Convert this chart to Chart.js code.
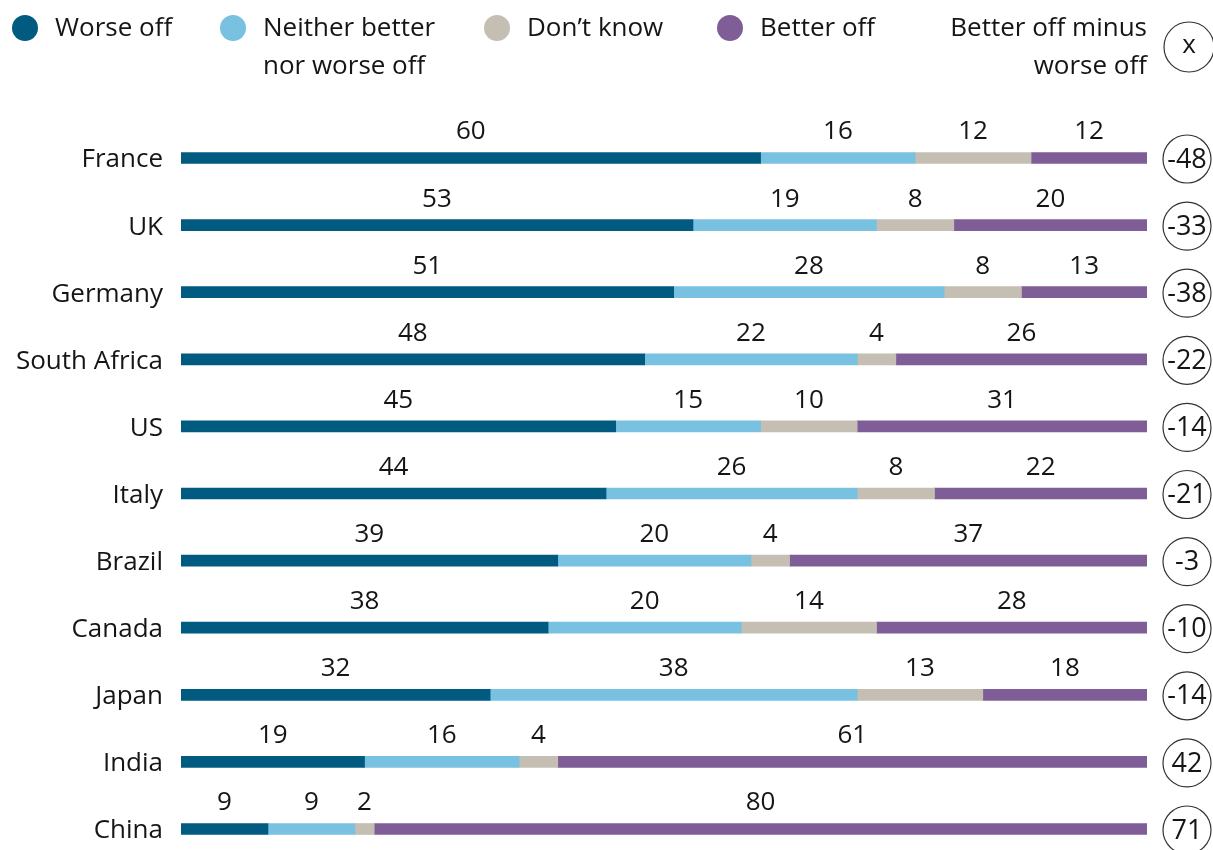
<!DOCTYPE html>
<html>
<head>
<meta charset="utf-8">
<script src="https://cdn.jsdelivr.net/npm/chart.js@4.4.1/dist/chart.umd.min.js"></script>
<style>
  html, body { margin: 0; padding: 0; background: #fff; }
  #wrap { width: 1213px; height: 850px; }
</style>
</head>
<body>
<div id="wrap"><canvas id="chart" width="1213" height="850"></canvas></div>
<script>
const countries = ['France', 'UK', 'Germany', 'South Africa', 'US', 'Italy', 'Brazil', 'Canada', 'Japan', 'India', 'China'];
const worseOff = [60, 53, 51, 48, 45, 44, 39, 38, 32, 19, 9];
const neither = [16, 19, 28, 22, 15, 26, 20, 20, 38, 16, 9];
const dontKnow = [12, 8, 8, 4, 10, 8, 4, 14, 13, 4, 2];
const betterOff = [12, 20, 13, 26, 31, 22, 37, 28, 18, 61, 80];
const netBetter = [-48, -33, -38, -22, -14, -21, -3, -10, -14, 42, 71];

const seriesNames = ['Worse off', 'Neither better\nnor worse off', 'Don\u2019t know', 'Better off'];
const seriesColors = ['#015a80', '#79c1e1', '#c5beb3', '#7f5e98'];

const FONT = "'Open Sans', 'Noto Sans', sans-serif";
const TEXT = '#151515';

// value labels, net circles and legend drawn after the bars
const overlayPlugin = {
    id: 'overlay',
    afterDatasetsDraw(chart) {
        const ctx = chart.ctx;
        const area = chart.chartArea;
        ctx.save();
        ctx.fillStyle = TEXT;
        ctx.font = '26px ' + FONT;
        ctx.textAlign = 'center';
        ctx.textBaseline = 'middle';

        // numbers above each segment
        chart.data.datasets.forEach((ds, di) => {
            const meta = chart.getDatasetMeta(di);
            meta.data.forEach((bar, i) => {
                const p = bar.getProps(['x', 'y', 'base'], true);
                const right = Math.min(p.x, area.right);
                const cx = (p.base + right) / 2;
                ctx.fillText(String(ds.data[i]), cx, p.y - 26);
            });
        });

        // net values in circles
        const meta0 = chart.getDatasetMeta(0);
        ctx.lineWidth = 1.2;
        ctx.strokeStyle = '#333';
        meta0.data.forEach((bar, i) => {
            const y = bar.y + 1;
            const cx = 1187;
            ctx.beginPath();
            ctx.arc(cx, y, 24, 0, Math.PI * 2);
            ctx.fillStyle = '#fff';
            ctx.fill();
            ctx.stroke();
            ctx.fillStyle = TEXT;
            ctx.font = '27px ' + FONT;
            ctx.fillText(String(netBetter[i]), cx, y + 1);
        });

        // legend
        ctx.font = '26px ' + FONT;
        ctx.textAlign = 'left';
        const legendX = [25, 233, 497, 730];
        seriesNames.forEach((name, si) => {
            const x = legendX[si];
            ctx.beginPath();
            ctx.arc(x, 28, 13, 0, Math.PI * 2);
            ctx.fillStyle = seriesColors[si];
            ctx.fill();
            ctx.fillStyle = TEXT;
            name.split('\n').forEach((line, li) => {
                ctx.fillText(line, x + 30, 29 + li * 38);
            });
        });
        ctx.textAlign = 'right';
        ctx.fillText('Better off minus', 1147, 29);
        ctx.fillText('worse off', 1147, 67);
        ctx.beginPath();
        ctx.arc(1189, 47, 25, 0, Math.PI * 2);
        ctx.strokeStyle = '#333';
        ctx.stroke();
        ctx.textAlign = 'center';
        ctx.fillText('x', 1189, 46);
        ctx.restore();
    }
};

const datasetList = [worseOff, neither, dontKnow, betterOff].map((vals, i) => ({
    label: seriesNames[i].replace('\n', ' '),
    data: vals,
    backgroundColor: seriesColors[i],
    borderWidth: 0,
    barThickness: 11,
    clip: { left: 0, right: 0, top: 30, bottom: 30 }
}));

new Chart(document.getElementById('chart'), {
    type: 'bar',
    data: { labels: countries, datasets: datasetList },
    plugins: [overlayPlugin],
    options: {
        indexAxis: 'y',
        responsive: false,
        animation: false,
        layout: { padding: { top: 158, bottom: 21, left: 0, right: 66 } },
        plugins: { legend: { display: false }, tooltip: { enabled: false } },
        scales: {
            x: {
                stacked: true,
                min: 0,
                max: 100,
                display: false
            },
            y: {
                stacked: true,
                offset: false,
                grid: { display: false, drawTicks: false },
                border: { display: false },
                ticks: {
                    color: TEXT,
                    font: { size: 26, family: FONT },
                    padding: 18,
                    labelOffset: 2
                },
                afterFit(scale) {
                    scale.width = 181;
                    scale.paddingTop = 0;
                    scale.paddingBottom = 0;
                }
            }
        }
    }
});
</script>
</body>
</html>
